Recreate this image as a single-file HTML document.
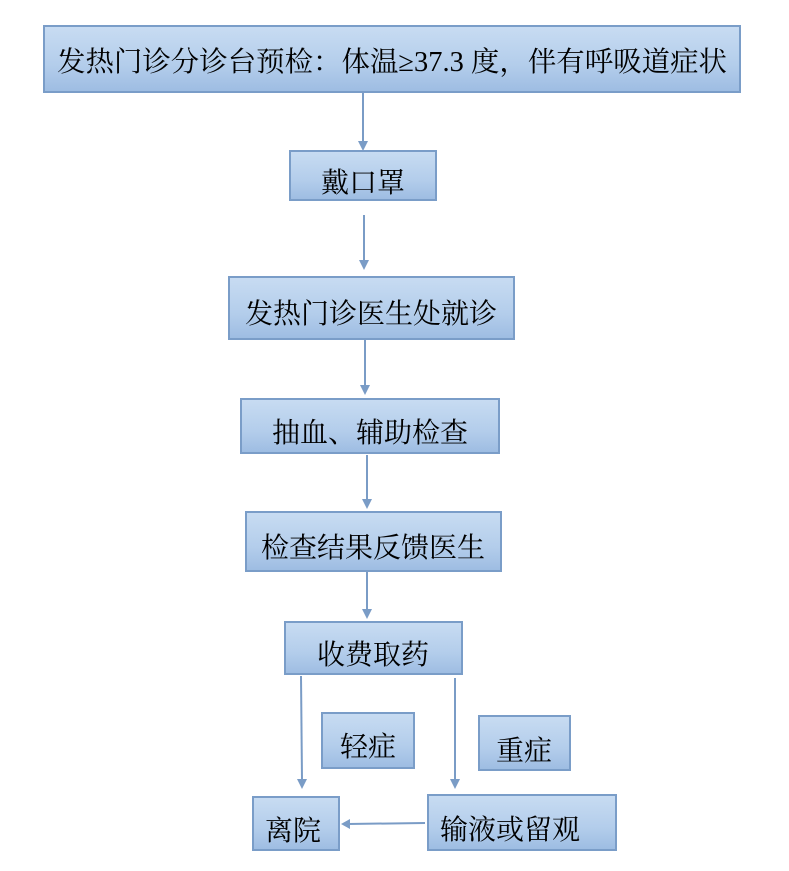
<!DOCTYPE html>
<html><head><meta charset="utf-8"><style>
html,body{margin:0;padding:0;background:#fff;width:789px;height:871px;overflow:hidden}
svg text{font-family:"Liberation Serif","Noto Serif CJK SC",serif;font-size:28px;fill:#000}
</style></head><body>
<svg width="789" height="871" xmlns="http://www.w3.org/2000/svg">
<defs>
<linearGradient id="g" x1="0" y1="0" x2="0" y2="1">
<stop offset="0" stop-color="#c8dcf2"/><stop offset="0.6" stop-color="#b3cdeb"/><stop offset="1" stop-color="#9dbce2"/>
</linearGradient>
</defs>
<g fill="url(#g)" stroke="#7a9dc8" stroke-width="2">
<rect x="44" y="26" width="696" height="66"/>
<rect x="290" y="151" width="146" height="49"/>
<rect x="229" y="277" width="285" height="62"/>
<rect x="241" y="399" width="258" height="54"/>
<rect x="246" y="512" width="255" height="59"/>
<rect x="285" y="622" width="177" height="52"/>
<rect x="322" y="713" width="92" height="55"/>
<rect x="479" y="716" width="91" height="54"/>
<rect x="253" y="797" width="86" height="53"/>
<rect x="428" y="795" width="188" height="55"/>
</g>
<g stroke="#7a9cc6" stroke-width="2" fill="none">
<line x1="363" y1="92" x2="363" y2="142"/>
<line x1="364" y1="215" x2="364" y2="261"/>
<line x1="365" y1="340" x2="365" y2="386"/>
<line x1="367" y1="455" x2="367" y2="500"/>
<line x1="367" y1="572" x2="367" y2="610"/>
<line x1="301" y1="676" x2="302" y2="780"/>
<line x1="455" y1="678" x2="455" y2="780"/>
<line x1="425" y1="823" x2="348" y2="824"/>
</g>
<g fill="#7a9cc6">
<path d="M358,141 L368,141 L363,151 Z"/>
<path d="M359,260 L369,260 L364,270 Z"/>
<path d="M360,385 L370,385 L365,395 Z"/>
<path d="M362,499 L372,499 L367,509 Z"/>
<path d="M362,609 L372,609 L367,619 Z"/>
<path d="M297,779 L307,779 L302,789 Z"/>
<path d="M450,779 L460,779 L455,789 Z"/>
<path d="M341,824 L350,819 L350,829 Z"/>
</g>
<text x="57" y="71" textLength="670" lengthAdjust="spacingAndGlyphs">发热门诊分诊台预检：体温≥37.3 度，伴有呼吸道症状</text>
<text x="363" y="192" text-anchor="middle">戴口罩</text>
<text x="371" y="323" text-anchor="middle">发热门诊医生处就诊</text>
<text x="370" y="442" text-anchor="middle">抽血、辅助检查</text>
<text x="373" y="557" text-anchor="middle">检查结果反馈医生</text>
<text x="373" y="664" text-anchor="middle">收费取药</text>
<text x="368" y="756" text-anchor="middle">轻症</text>
<text x="524" y="760" text-anchor="middle">重症</text>
<text x="265" y="840">离院</text>
<text x="440" y="839">输液或留观</text>
</svg>
</body></html>
